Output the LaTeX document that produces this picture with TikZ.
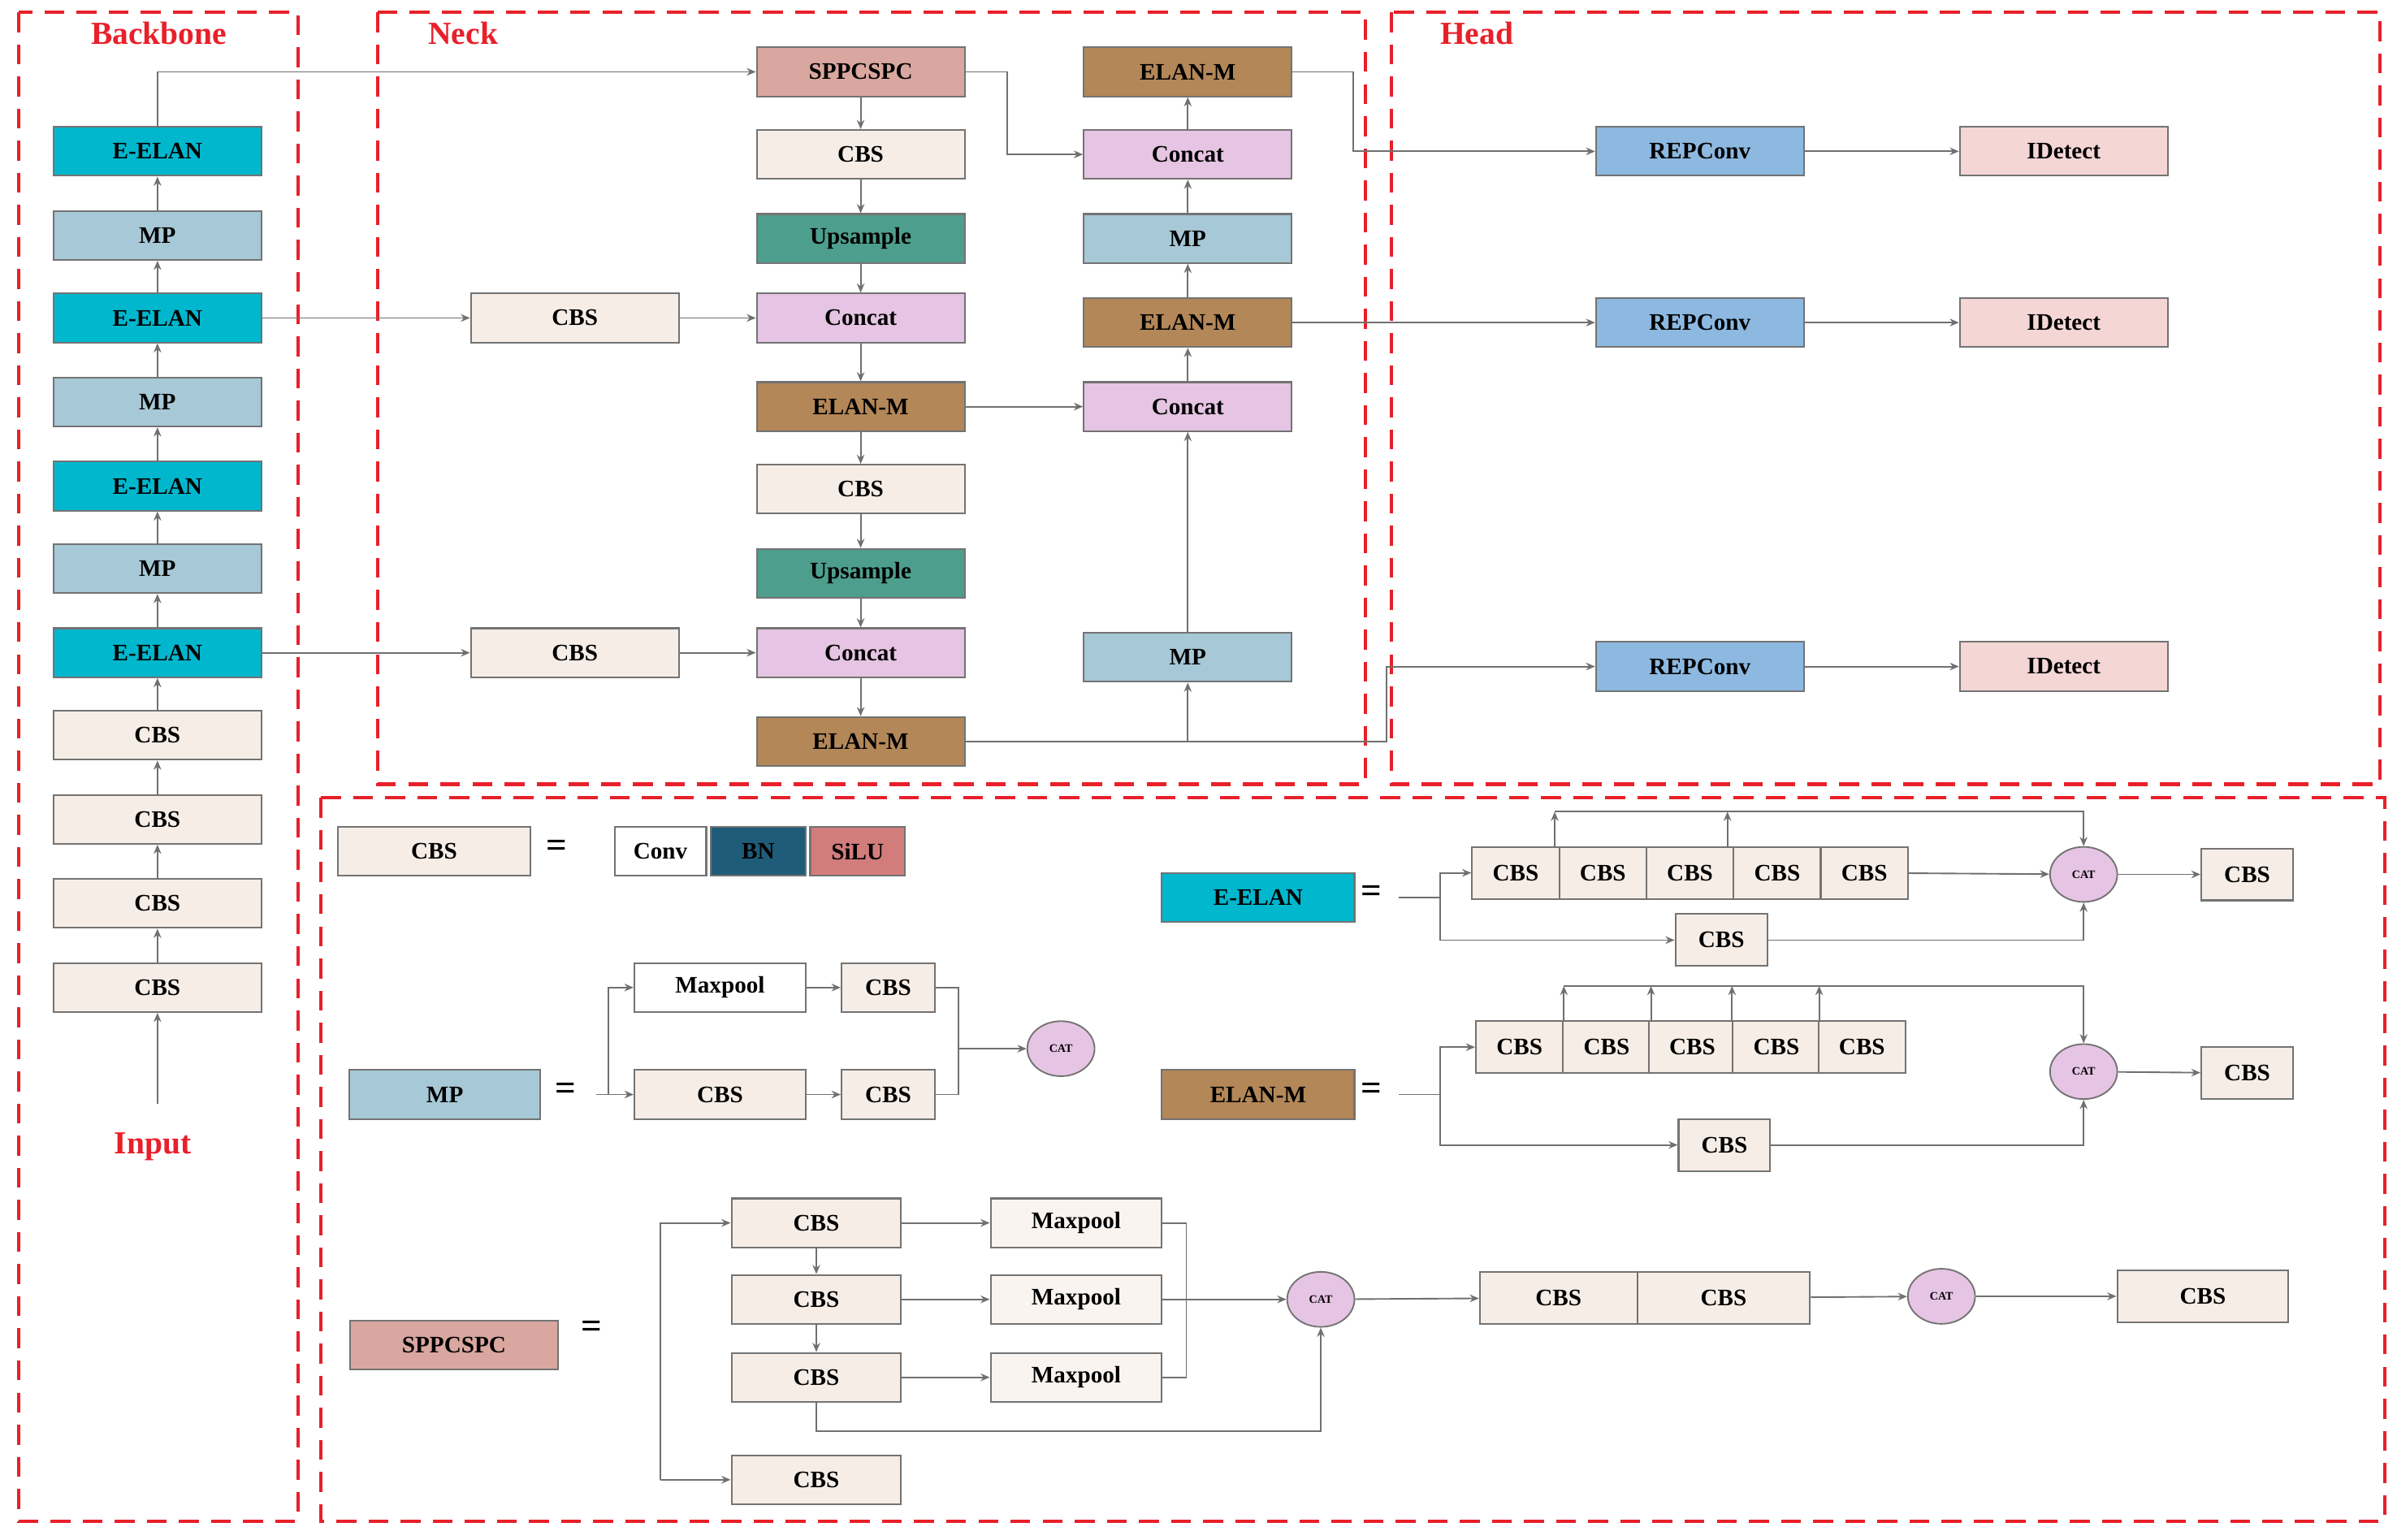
\documentclass[tikz,border=0pt]{standalone}
\usepackage{fontspec}
\setmainfont{Liberation Serif}
\usetikzlibrary{arrows.meta,shapes.geometric}
\definecolor{cbsc}{HTML}{F6EDE6}
\definecolor{eelc}{HTML}{00B7CE}
\definecolor{mpc}{HTML}{A7C8D6}
\definecolor{sppc}{HTML}{D9A79F}
\definecolor{upc}{HTML}{4E9E8E}
\definecolor{conc}{HTML}{E6C4E3}
\definecolor{elmc}{HTML}{B38758}
\definecolor{repc}{HTML}{8DB8E0}
\definecolor{detc}{HTML}{F4D6D4}
\definecolor{bnc}{HTML}{1F5C7A}
\definecolor{siluc}{HTML}{D27C7C}
\definecolor{redd}{HTML}{E8202A}
\definecolor{linec}{HTML}{707070}
\tikzset{
 x=1pt,y=-1pt,
 box/.style={draw=black!55,line width=1.1pt,minimum height=32pt,minimum width=136pt,inner sep=0pt,font=\bfseries\fontsize{15.5}{17}\selectfont},
 cbs/.style={box,fill=cbsc},
 eel/.style={box,fill=eelc},
 mp/.style={box,fill=mpc},
 spp/.style={box,fill=sppc},
 ups/.style={box,fill=upc},
 con/.style={box,fill=conc},
 elm/.style={box,fill=elmc},
 rep/.style={box,fill=repc},
 det/.style={box,fill=detc},
 cat/.style={ellipse,draw=black!55,line width=1pt,fill=conc,minimum width=44pt,minimum height=36pt,inner sep=0pt,font=\bfseries\fontsize{7.5}{8}\selectfont},
 arr/.style={draw=linec,line width=1pt,-{Stealth[length=6pt,width=5pt]}},
 ln/.style={draw=linec,line width=1pt},
 region/.style={draw=redd,line width=2.2pt,dash pattern=on 13pt off 8pt},
 ttl/.style={text=redd,font=\bfseries\fontsize{21}{22}\selectfont},
 eq/.style={font=\bfseries\fontsize{24}{24}\selectfont},
}
\begin{document}
\begin{tikzpicture}
\useasboundingbox (0,0) rectangle (1568,1007);
\fill[white] (0,0) rectangle (1568,1007);
% regions
\draw[region] (12,8) rectangle (195,995);
\draw[region] (247,8) rectangle (893,513);
\draw[region] (910,8) rectangle (1557,513);
\draw[region] (210,522) rectangle (1560,995);
\node[ttl] (tb) at (104,22) {Backbone};
\node[ttl] (tn) at (303,22) {Neck};
\node[ttl] (th) at (966,22) {Head};
\node[ttl] (tin) at (100,750) {Input};
% backbone
\node[eel] (b1) at (103,99) {E-ELAN};
\node[mp]  (b2) at (103,154) {MP};
\node[eel] (b3) at (103,208) {E-ELAN};
\node[mp]  (b4) at (103,263) {MP};
\node[eel] (b5) at (103,318) {E-ELAN};
\node[mp]  (b6) at (103,372) {MP};
\node[eel] (b7) at (103,427) {E-ELAN};
\node[cbs] (b8) at (103,481) {CBS};
\node[cbs] (b9) at (103,536) {CBS};
\node[cbs] (b10) at (103,591) {CBS};
\node[cbs] (b11) at (103,646) {CBS};
\coordinate (in) at (103,722);
\draw[arr] (in) -- (b11);
\draw[arr] (b11) -- (b10);
\draw[arr] (b10) -- (b9);
\draw[arr] (b9) -- (b8);
\draw[arr] (b8) -- (b7);
\draw[arr] (b7) -- (b6);
\draw[arr] (b6) -- (b5);
\draw[arr] (b5) -- (b4);
\draw[arr] (b4) -- (b3);
\draw[arr] (b3) -- (b2);
\draw[arr] (b2) -- (b1);
% neck
\node[spp] (n1) at (563,47) {SPPCSPC};
\node[cbs] (n2) at (563,101) {CBS};
\node[ups] (n3) at (563,156) {Upsample};
\node[con] (n4) at (563,208) {Concat};
\node[elm] (n5) at (563,266) {ELAN-M};
\node[cbs] (n6) at (563,320) {CBS};
\node[ups] (n7) at (563,375) {Upsample};
\node[con] (n8) at (563,427) {Concat};
\node[elm] (n9) at (563,485) {ELAN-M};
\node[cbs] (s1) at (376,208) {CBS};
\node[cbs] (s2) at (376,427) {CBS};
\node[elm] (r1) at (777,47) {ELAN-M};
\node[con] (r2) at (777,101) {Concat};
\node[mp]  (r3) at (777,156) {MP};
\node[elm] (r4) at (777,211) {ELAN-M};
\node[con] (r5) at (777,266) {Concat};
\node[mp]  (r6) at (777,430) {MP};
\draw[arr] (b1.north) |- (n1.west);
\draw[arr] (n1) -- (n2);
\draw[arr] (n2) -- (n3);
\draw[arr] (n3) -- (n4);
\draw[arr] (n4) -- (n5);
\draw[arr] (n5) -- (n6);
\draw[arr] (n6) -- (n7);
\draw[arr] (n7) -- (n8);
\draw[arr] (n8) -- (n9);
\draw[arr] (b3) -- (s1);
\draw[arr] (s1) -- (n4);
\draw[arr] (b7) -- (s2);
\draw[arr] (s2) -- (n8);
\draw[arr] (n1.east) -- (659,47) |- (r2.west);
\draw[arr] (n5) -- (r5);
\draw[arr] (n9.east) -| (r6.south);
\draw[arr] (r6) -- (r5);
\draw[arr] (r5) -- (r4);
\draw[arr] (r4) -- (r3);
\draw[arr] (r3) -- (r2);
\draw[arr] (r2) -- (r1);
% head
\node[rep] (h1) at (1112,99) {REPConv};
\node[rep] (h2) at (1112,211) {REPConv};
\node[rep] (h3) at (1112,436) {REPConv};
\node[det] (d1) at (1350,99) {IDetect};
\node[det] (d2) at (1350,211) {IDetect};
\node[det] (d3) at (1350,436) {IDetect};
\draw[arr] (r1.east) -- (885,47) |- (h1.west);
\draw[arr] (r4) -- (h2);
\draw[arr] (n9.east) -- (907,485) |- (h3.west);
\draw[arr] (h1) -- (d1);
\draw[arr] (h2) -- (d2);
\draw[arr] (h3) -- (d3);
% legend CBS
\node[cbs,minimum width=126pt] (lc) at (284,557) {CBS};
\node[eq] (e1) at (364,555) {=};
\node[box,fill=white,minimum width=60pt] (lconv) at (432,557) {Conv};
\node[box,fill=bnc,minimum width=62pt] (lbn) at (496,557) {BN};
\node[box,fill=siluc,minimum width=62pt] (lsi) at (561,557) {SiLU};
% legend MP
\node[mp,minimum width=125pt] (lmp) at (291,716) {MP};
\node[eq] (e2) at (370,714) {=};
\node[box,fill=white,minimum width=112pt] (mx1) at (471,646) {Maxpool};
\node[cbs,minimum width=61pt] (mc1) at (581,646) {CBS};
\node[cbs,minimum width=112pt] (mc2) at (471,716) {CBS};
\node[cbs,minimum width=61pt] (mc3) at (581,716) {CBS};
\node[cat] (mcat) at (694,686) {CAT};
\coordinate (ms) at (390,716);
\coordinate (mj) at (398,716);
\draw[ln] (ms) -- (mj);
\draw[arr] (mj) |- (mx1.west);
\draw[arr] (mj) -- (mc2.west);
\draw[arr] (mx1) -- (mc1);
\draw[arr] (mc2) -- (mc3);
\draw[ln] (mc1.east) -- (627,646) -- (627,716) -- (mc3.east);
\draw[arr] (627,686) -- (mcat.west);
% legend E-ELAN
\node[eel,minimum width=126pt] (lee) at (823,587) {E-ELAN};
\node[eq] (e3) at (897,585) {=};
\foreach \i/\xx in {1/991.5,2/1048.5,3/1105.5,4/1162.5,5/1219.5}
  \node[cbs,minimum width=57pt,minimum height=34pt] (ea\i) at (\xx,571) {CBS};
\node[cbs,minimum width=60pt,minimum height=34pt] (eb) at (1126,615) {CBS};
\node[cat] (ecat) at (1363,572) {CAT};
\node[cbs,minimum width=60pt,minimum height=34pt] (eo) at (1470,572) {CBS};
\coordinate (es) at (915,587);
\coordinate (ej) at (942,587);
\draw[ln] (es) -- (ej);
\draw[arr] (ej) |- (ea1.west);
\draw[arr] (ej) |- (eb.west);
\draw[arr] (ea5) -- (ecat);
\draw[arr] (eb.east) -| (ecat.south);
\draw[arr] (1017,531) -| (ecat.north);
\draw[arr] (1017,554) -- (1017,531);
\draw[arr] (1130,554) -- (1130,531);
\draw[arr] (ecat) -- (eo);
% legend ELAN-M
\node[elm,minimum width=126pt] (lem) at (823,716) {ELAN-M};
\node[eq] (e4) at (897,714) {=};
\foreach \i/\xx in {1/994,2/1051,3/1107,4/1162,5/1218}
  \node[cbs,minimum width=57pt,minimum height=34pt] (ma\i) at (\xx,685) {CBS};
\node[cbs,minimum width=60pt,minimum height=34pt] (mb) at (1128,749) {CBS};
\node[cat] (mcat2) at (1363,701) {CAT};
\node[cbs,minimum width=60pt,minimum height=34pt] (mo) at (1470,702) {CBS};
\coordinate (ls) at (915,716);
\coordinate (lj) at (942,716);
\draw[ln] (ls) -- (lj);
\draw[arr] (lj) |- (ma1.west);
\draw[arr] (lj) |- (mb.west);
\draw[arr] (mb.east) -| (mcat2.south);
\draw[arr] (1023,645) -| (mcat2.north);
\foreach \xx in {1023,1080,1133,1190} \draw[arr] (\xx,668) -- (\xx,645);
\draw[arr] (mcat2) -- (mo);
% legend SPPCSPC
\node[spp,minimum width=136pt] (lsp) at (297,880) {SPPCSPC};
\node[eq] (e5) at (387,870) {=};
\node[cbs,minimum width=111pt] (sc1) at (534,800) {CBS};
\node[cbs,minimum width=111pt] (sc2) at (534,850) {CBS};
\node[cbs,minimum width=111pt] (sc3) at (534,901) {CBS};
\node[cbs,minimum width=111pt] (sc4) at (534,968) {CBS};
\node[box,fill=cbsc!60!white,minimum width=112pt] (sm1) at (704,800) {Maxpool};
\node[box,fill=cbsc!60!white,minimum width=112pt] (sm2) at (704,850) {Maxpool};
\node[box,fill=cbsc!60!white,minimum width=112pt] (sm3) at (704,901) {Maxpool};
\node[cat] (scat1) at (864,850) {CAT};
\node[cbs,minimum width=103pt,minimum height=34pt] (sd1) at (1019.5,849) {CBS};
\node[cbs,minimum width=113pt,minimum height=34pt] (sd2) at (1127.5,849) {CBS};
\node[cat] (scat2) at (1270,848) {CAT};
\node[cbs,minimum width=112pt,minimum height=34pt] (so) at (1441,848) {CBS};
\draw[arr] (432,968) |- (sc1.west);
\draw[arr] (432,968) -- (sc4.west);
\draw[arr] (sc1) -- (sc2);
\draw[arr] (sc2) -- (sc3);
\draw[arr] (sc1) -- (sm1);
\draw[arr] (sc2) -- (sm2);
\draw[arr] (sc3) -- (sm3);
\draw[ln] (sm1.east) -- (776,800) -- (776,901) -- (sm3.east);
\draw[arr] (sm2.east) -- (scat1.west);
\draw[arr] (sc3.south) |- (864,936) -- (scat1.south);
\draw[arr] (scat1) -- (sd1);
\draw[arr] (sd2) -- (scat2);
\draw[arr] (scat2) -- (so);
\end{tikzpicture}
\end{document}
